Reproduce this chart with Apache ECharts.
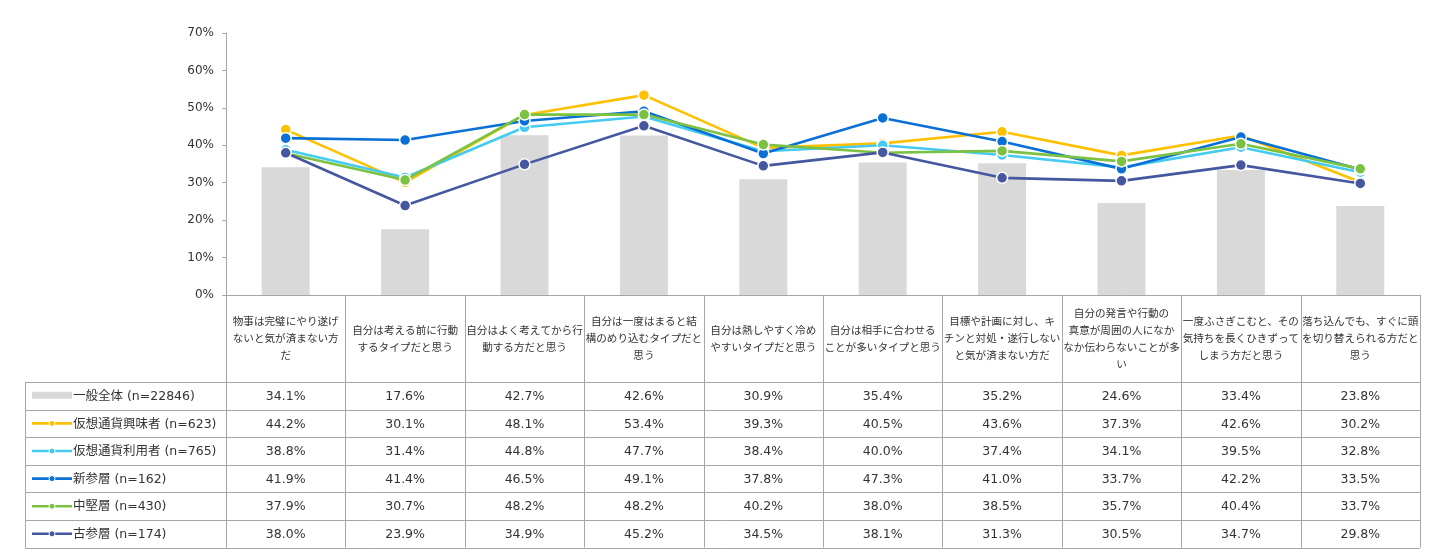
<!DOCTYPE html>
<html>
<head>
<meta charset="utf-8">
<script src="https://cdn.jsdelivr.net/npm/echarts@6/dist/echarts.min.js"></script>
<style>
html,body{margin:0;padding:0;background:#fff;}
#main{width:1454px;height:560px;}
</style>
</head>
<body>
<div id="main"></div>
<script>
const categories = [
  '物事は完璧にやり遂げ\nないと気が済まない方\nだ',
  '自分は考える前に行動\nするタイプだと思う',
  '自分はよく考えてから行\n動する方だと思う',
  '自分は一度はまると結\n構のめり込むタイプだと\n思う',
  '自分は熱しやすく冷め\nやすいタイプだと思う',
  '自分は相手に合わせる\nことが多いタイプと思う',
  '目標や計画に対し、キ\nチンと対処・遂行しない\nと気が済まない方だ',
  '自分の発言や行動の\n真意が周囲の人になか\nなか伝わらないことが多\nい',
  '一度ふさぎこむと、その\n気持ちを長くひきずって\nしまう方だと思う',
  '落ち込んでも、すぐに頭\nを切り替えられる方だと\n思う'
];
const yTicks = [0, 10, 20, 30, 40, 50, 60, 70];

const barName = '一般全体 (n=22846)';
const barValues = [34.1, 17.6, 42.7, 42.6, 30.9, 35.4, 35.2, 24.6, 33.4, 23.8];

const lineNames = ['仮想通貨興味者 (n=623)', '仮想通貨利用者 (n=765)', '新参層 (n=162)', '中堅層 (n=430)', '古参層 (n=174)'];
const interestValues = [44.2, 30.1, 48.1, 53.4, 39.3, 40.5, 43.6, 37.3, 42.6, 30.2];
const userValues     = [38.8, 31.4, 44.8, 47.7, 38.4, 40.0, 37.4, 34.1, 39.5, 32.8];
const newValues      = [41.9, 41.4, 46.5, 49.1, 37.8, 47.3, 41.0, 33.7, 42.2, 33.5];
const midValues      = [37.9, 30.7, 48.2, 48.2, 40.2, 38.0, 38.5, 35.7, 40.4, 33.7];
const oldValues      = [38.0, 23.9, 34.9, 45.2, 34.5, 38.1, 31.3, 30.5, 34.7, 29.8];
const lineValues = [interestValues, userValues, newValues, midValues, oldValues];

const barColor = '#d9d9d9';
const lineColors = ['#ffc000', '#45cbf0', '#0a70d6', '#7cc242', '#45589f'];
const FONT = "'DejaVu Sans', 'Noto Sans CJK JP', sans-serif";
const TEXT = '#333333';
const BORDER = '#a6a6a6';

const chart = echarts.init(document.getElementById('main'));

const series = [{
  name: barName, type: 'bar', data: barValues, barWidth: 48,
  itemStyle: { color: barColor }, z: 1
}];
lineNames.forEach((n, i) => {
  series.push({
    name: n, type: 'line', data: lineValues[i], z: 2 + i,
    lineStyle: { color: lineColors[i], width: 2.6 },
    itemStyle: { color: lineColors[i], borderColor: '#fff', borderWidth: 1.5 },
    symbol: 'circle', symbolSize: 11
  });
});

chart.setOption({
  animation: false,
  grid: { left: 226, right: 34, top: 33, bottom: 265 },
  xAxis: {
    type: 'category', data: categories,
    axisLine: { lineStyle: { color: BORDER } },
    axisTick: { show: false }, axisLabel: { show: false }
  },
  yAxis: {
    type: 'value', min: yTicks[0], max: yTicks[yTicks.length - 1], interval: 10,
    axisLine: { show: true, lineStyle: { color: BORDER } },
    axisTick: { show: true, length: 4, lineStyle: { color: BORDER } },
    splitLine: { show: false },
    axisLabel: { formatter: '{value}%', color: TEXT, fontSize: 12, fontFamily: FONT, margin: 12 }
  },
  series: series
});

// Data table drawn beneath the chart, aligned to the category axis
const c0 = chart.convertToPixel({ xAxisIndex: 0 }, 0);
const c1 = chart.convertToPixel({ xAxisIndex: 0 }, 1);
const colW = c1 - c0;
const xStart = c0 - colW / 2;
const xEnd = xStart + colW * categories.length;
const yAxis0 = chart.convertToPixel({ yAxisIndex: 0 }, 0);
const headerBottom = yAxis0 + 87;
const rowH = 27.6;
const nRows = 1 + lineNames.length;
const tableBottom = headerBottom + rowH * nRows;
const tableLeft = 25;

const g = [];
const line = (x1, y1, x2, y2) => g.push({
  type: 'line', shape: { x1, y1, x2, y2 }, style: { stroke: BORDER, lineWidth: 1 }, silent: true
});
for (let i = 0; i <= categories.length; i++) {
  const x = Math.round(xStart + i * colW) + 0.5;
  line(x, yAxis0, x, tableBottom);
}
line(tableLeft + 0.5, headerBottom, tableLeft + 0.5, tableBottom);
for (let r = 0; r <= nRows; r++) {
  const y = Math.round(headerBottom + r * rowH) + 0.5;
  line(tableLeft, y, xEnd, y);
}
categories.forEach((c, i) => {
  g.push({
    type: 'text', silent: true,
    x: xStart + (i + 0.5) * colW, y: (yAxis0 + headerBottom) / 2 + 1,
    style: { text: c, font: '10.6px ' + FONT, fill: TEXT, align: 'center', verticalAlign: 'middle', lineHeight: 17 }
  });
});
const rowNames = [barName].concat(lineNames);
const rowValues = [barValues].concat(lineValues);
rowNames.forEach((n, r) => {
  const yc = headerBottom + (r + 0.5) * rowH;
  if (r === 0) {
    g.push({ type: 'rect', silent: true, shape: { x: 32, y: yc - 4, width: 40, height: 7 }, style: { fill: barColor } });
  } else {
    const col = lineColors[r - 1];
    g.push({ type: 'line', silent: true, shape: { x1: 32, y1: yc, x2: 72, y2: yc }, style: { stroke: col, lineWidth: 2.6 } });
    g.push({ type: 'circle', silent: true, shape: { cx: 52, cy: yc, r: 3 }, style: { fill: col, stroke: '#fff', lineWidth: 1 } });
  }
  g.push({
    type: 'text', silent: true, x: 73, y: yc + 1,
    style: { text: n, font: '12.5px ' + FONT, fill: TEXT, align: 'left', verticalAlign: 'middle' }
  });
  rowValues[r].forEach((v, i) => {
    g.push({
      type: 'text', silent: true, x: xStart + (i + 0.5) * colW, y: yc + 1,
      style: { text: v.toFixed(1) + '%', font: '12.5px ' + FONT, fill: TEXT, align: 'center', verticalAlign: 'middle' }
    });
  });
});

chart.setOption({ graphic: g });
</script>
</body>
</html>
